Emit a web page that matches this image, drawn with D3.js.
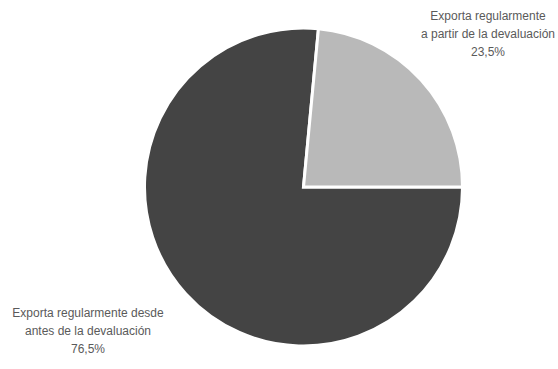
<!DOCTYPE html>
<html>
<head>
<meta charset="utf-8">
<script src="https://cdn.jsdelivr.net/npm/d3@7"></script>
<style>
  html, body { margin: 0; padding: 0; background: #fff; }
  svg { display: block; }
  text { font-family: "Liberation Sans", Arial, sans-serif; fill: #5a5a5a; }
</style>
</head>
<body>
<svg id="chart" width="558" height="369"></svg>
<script>
// Share of exporting firms by when they began exporting regularly
const categories = [
  ["Exporta regularmente desde", "antes de la devaluación"],
  ["Exporta regularmente", "a partir de la devaluación"]
];
const shares = [76.5, 23.5];
const shareLabels = ["76,5%", "23,5%"];
const colors = ["#444444", "#b9b9b9"];

const svg = d3.select("#chart");
const cx = 303.5, cy = 187, radius = 159;

const data = shares.map((v, i) => ({ value: v, lines: categories[i], label: shareLabels[i], color: colors[i] }));

// slices run clockwise starting at 3 o'clock
const pie = d3.pie()
  .value(d => d.value)
  .sort(null)
  .startAngle(Math.PI / 2)
  .endAngle(Math.PI / 2 + 2 * Math.PI);

const arc = d3.arc().innerRadius(0).outerRadius(radius);

const g = svg.append("g").attr("transform", `translate(${cx},${cy})`);

g.selectAll("path")
  .data(pie(data))
  .join("path")
  .attr("d", arc)
  .attr("fill", d => d.data.color)
  .attr("stroke", "#fff")
  .attr("stroke-width", 3)
  .attr("stroke-linejoin", "miter");

// category labels outside the pie
const labelPos = [
  { x: 88, y: 317 },
  { x: 488, y: 20 }
];

data.forEach((d, i) => {
  const t = svg.append("text")
    .attr("x", labelPos[i].x)
    .attr("y", labelPos[i].y)
    .attr("text-anchor", "middle")
    .attr("font-size", 12);
  d.lines.concat([d.label]).forEach((line, j) => {
    t.append("tspan")
      .attr("x", labelPos[i].x)
      .attr("dy", j === 0 ? 0 : 18)
      .text(line);
  });
});
</script>
</body>
</html>
